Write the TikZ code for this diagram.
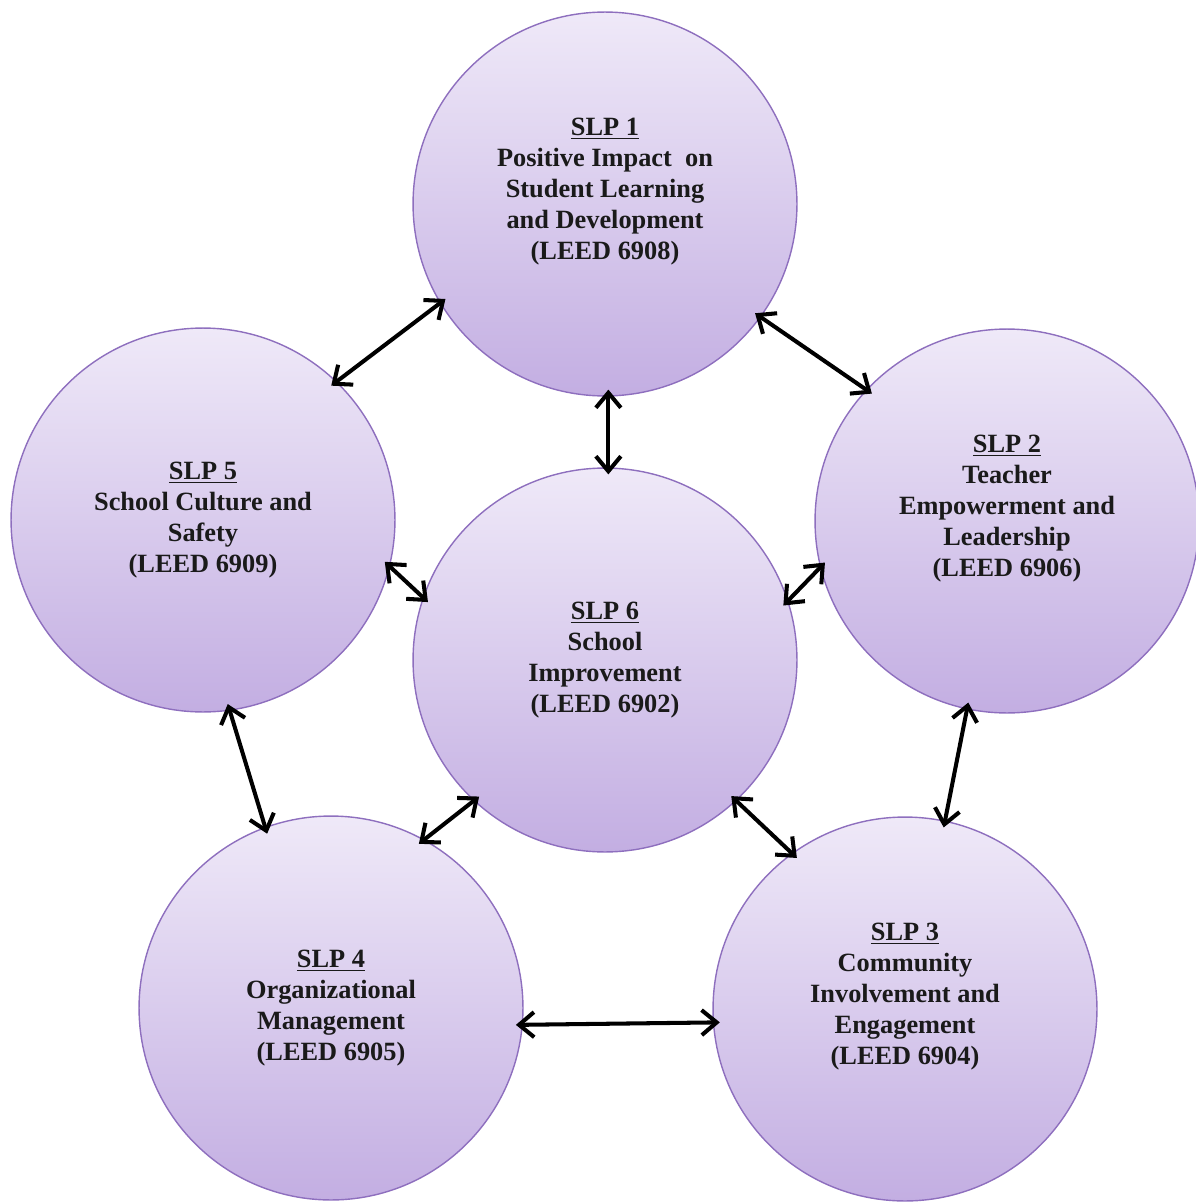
\documentclass[tikz,border=0pt]{standalone}
\usepackage{fontspec}
\setmainfont{Liberation Serif}
\usepackage{xcolor}
\definecolor{clTop}{HTML}{EFE9F8}
\definecolor{clBottom}{HTML}{C3AEE2}
\definecolor{clRim}{HTML}{8E6FBE}
\definecolor{clText}{HTML}{1A1A1A}
\usetikzlibrary{arrows.meta}
\tikzset{
  slp/.style={circle, draw=clRim, line width=0.8pt, top color=clTop, bottom color=clBottom,
              minimum size=7.68cm, inner sep=0pt, align=center, text=clText,
              font=\fontsize{15}{17.6}\selectfont\bfseries},
  link/.style={{Straight Barb[length=3mm,width=5mm]}-{Straight Barb[length=3mm,width=5mm]},
               line width=2.3pt, black, shorten <=-4pt, shorten >=-4pt},
}

\begin{document}
\begin{tikzpicture}[x=0.02cm, y=-0.02cm]
  \useasboundingbox (0,0) rectangle (1196,1203);
  \node[slp] (s1) at (605,204) {\underline{SLP 1}\\Positive Impact\ \ on\\Student Learning\\and Development\\(LEED 6908)\\~};
  \node[slp] (s2) at (1007,521) {\underline{SLP 2}\\Teacher\\Empowerment and\\Leadership\\(LEED 6906)\\~};
  \node[slp] (s3) at (905,1009) {\underline{SLP 3}\\Community\\Involvement and\\Engagement\\(LEED 6904)\\~};
  \node[slp] (s4) at (331,1008) {\underline{SLP 4}\\Organizational\\Management\\(LEED 6905)};
  \node[slp] (s5) at (203,520) {\underline{SLP 5}\\School Culture and\\Safety\\(LEED 6909)};
  \node[slp] (s6) at (605,660) {\underline{SLP 6}\\School\\Improvement\\(LEED 6902)};
  % outer ring
  \draw[link] (s1.211) -- (s5.46);
  \draw[link] (s1.324) -- (s2.137);
  \draw[link] (s2.258) -- (s3.78);
  \draw[link] (s3.184) -- (s4.355);
  \draw[link] (s4.110) -- (s5.278);
  % spokes to the centre
  \draw[link] (s1.271) -- (s6.89);
  \draw[link] (s2.194) -- (s6.18);
  \draw[link] (s3.126) -- (s6.313);
  \draw[link] (s4.61) -- (s6.227);
  \draw[link] (s5.346) -- (s6.161);
\end{tikzpicture}
\end{document}
